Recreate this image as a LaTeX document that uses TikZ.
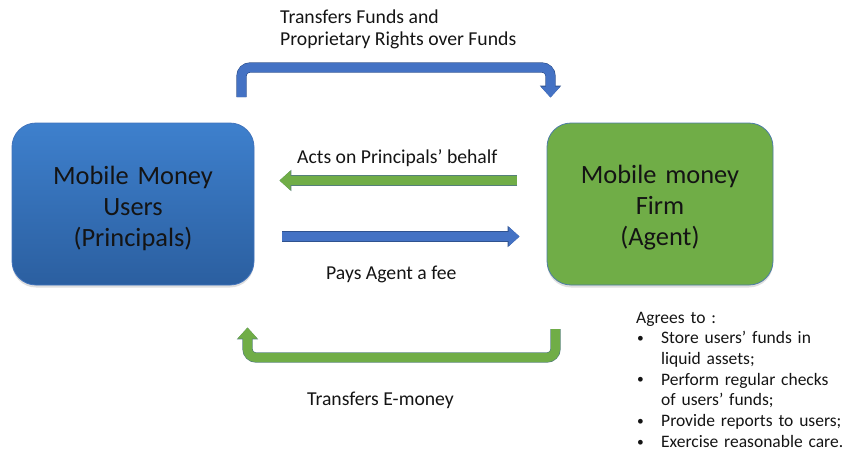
\documentclass[tikz,border=0pt]{standalone}
\usepackage{fontspec}
\setmainfont{Carlito}
\usetikzlibrary{arrows.meta,shadows}

\definecolor{userTop}{HTML}{3E80CD}
\definecolor{userBot}{HTML}{2B5FA0}
\definecolor{userEdge}{HTML}{4173BC}
\definecolor{firmFill}{HTML}{70AD47}
\definecolor{firmEdge}{HTML}{4D7CA6}
\definecolor{flowBlue}{HTML}{4472C4}
\definecolor{flowBlueEdge}{HTML}{2F528F}
\definecolor{flowGreen}{HTML}{70AD47}
\definecolor{flowGreenEdge}{HTML}{557F7A}
\definecolor{ink}{HTML}{141414}

% a small list bullet
\newcommand{\dutybullet}{\makebox[25pt][l]{\hspace{1pt}\raisebox{1.2pt}{\fontsize{13.5}{13.5}\selectfont •}}}

\tikzset{
  party/.style={rounded corners=24pt, line width=0.8pt, inner sep=0pt,
    minimum height=162pt,
    drop shadow={shadow xshift=0pt, shadow yshift=-2.5pt, opacity=0.25}},
  userbox/.style={party, minimum width=242pt, draw=userEdge,
    top color=userTop, bottom color=userBot},
  firmbox/.style={party, minimum width=226pt, draw=firmEdge, fill=firmFill},
  boxtext/.style={text width=240pt, align=center, inner sep=0pt, text=ink,
    font=\fontsize{26.4}{31}\selectfont},
  flowlabel/.style={inner sep=0pt, text=ink, font=\fontsize{19.7}{22}\selectfont},
  notelist/.style={inner sep=0pt, text=ink, text width=210pt, align=left,
    font=\fontsize{17.5}{20.7}\selectfont},
  flow/.style={line width=9pt, line join=round, rounded corners=8.5pt},
  blueflow/.style={flow, draw=flowBlue,
    -{Triangle[width=19pt,length=11pt]},
    preaction={draw=flowBlueEdge, line width=10.2pt,
      -{Triangle[width=20.6pt,length=11.8pt]}}},
  greenflow/.style={flow, draw=flowGreen,
    -{Triangle[width=19pt,length=11pt]},
    preaction={draw=flowGreenEdge, line width=10.2pt,
      -{Triangle[width=20.6pt,length=11.8pt]}}},
}

\begin{document}
\begin{tikzpicture}[x=1pt, y=-1pt]
  \useasboundingbox (0,0) rectangle (843,456);

  % the two parties
  \node[userbox] (users) at (133,204) {};
  \node[firmbox] (firm) at (660,204) {};
  \node[boxtext, anchor=base] (usersText) at ([yshift=20pt]users.center)
    {Mobile Money\\Users\\(Principals)};
  \node[boxtext, anchor=base] (firmText) at ([yshift=21pt]firm.center)
    {Mobile money\\Firm\\(Agent)};

  % end points of the flows between the parties
  \coordinate (fundsFrom) at (241.5,97);
  \coordinate (fundsBend) at (550.5,67.5);
  \coordinate (fundsTo)   at (550.5,97.5);
  \coordinate (actsFrom)  at (517,180.5);
  \coordinate (actsTo)    at (279.5,180.5);
  \coordinate (feeFrom)   at (282,236.5);
  \coordinate (feeTo)     at (519.5,236.5);
  \coordinate (emFrom)    at (555.5,329);
  \coordinate (emBend)    at (247.5,357.5);
  \coordinate (emTo)      at (247.5,327.5);

  % flows
  \draw[blueflow]  (fundsFrom) |- (fundsBend) -- (fundsTo);
  \draw[greenflow] (actsFrom) -- (actsTo);
  \draw[blueflow]  (feeFrom) -- (feeTo);
  \draw[greenflow] (emFrom) |- (emBend) -- (emTo);

  % flow labels
  \node[flowlabel, anchor=base west] (fundsLabA) at (280,23) {Transfers Funds and};
  \node[flowlabel, anchor=base west] (fundsLabB) at (280,45) {Proprietary Rights over Funds};
  \node[flowlabel, anchor=base west] (actsLab) at (297,163) {Acts on Principals’ behalf};
  \node[flowlabel, anchor=base west] (feeLab) at (326,279) {Pays Agent a fee};
  \node[flowlabel, anchor=base west] (emLab) at (307,405.5) {Transfers E-money};

  % obligations of the agent
  \node[notelist, anchor=base west] (duties) at (636,323) {%
    Agrees to :\\
    \dutybullet Store users’ funds in\\
    \hspace*{25pt}liquid assets;\\
    \dutybullet Perform regular checks\\
    \hspace*{25pt}of users’ funds;\\
    \dutybullet Provide reports to users;\\
    \dutybullet Exercise reasonable care.};
\end{tikzpicture}
\end{document}
